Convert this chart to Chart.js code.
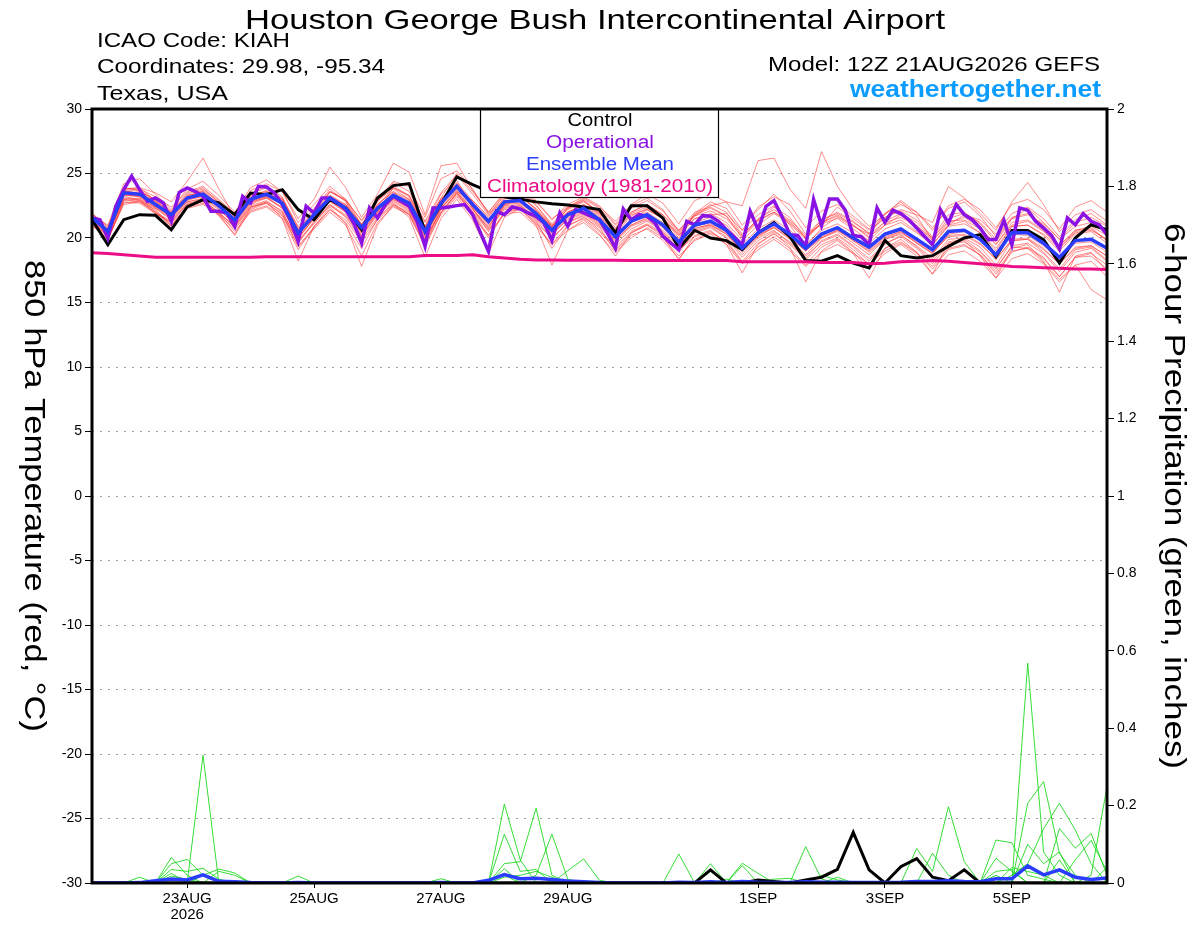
<!DOCTYPE html>
<html>
<head>
<meta charset="utf-8">
<title>KIAH GEFS 850 hPa meteogram</title>
<script src="https://cdn.jsdelivr.net/npm/chart.js@4.4.1/dist/chart.umd.min.js"></script>
<style>
  html, body { margin: 0; padding: 0; background: #fff; }
  #wrap { width: 1200px; height: 927px; position: relative; }
</style>
</head>
<body>
<div id="wrap"><canvas id="meteogram"></canvas></div>
<script>
// ---- time axis (hours after 12Z 21AUG2026) ----
const ENS_STEP_H = 6;   // ensemble output every 6 h
const OP_STEP_H = 3;    // operational run every 3 h
const tickHours = [36, 84, 132, 180, 252, 300, 348];
const tickLabels = [['23AUG', '2026'], '25AUG', '27AUG', '29AUG', '1SEP', '3SEP', '5SEP'];
const tempTicks = [-30, -25, -20, -15, -10, -5, 0, 5, 10, 15, 20, 25, 30];
const precipTicks = [0, 0.2, 0.4, 0.6, 0.8, 1, 1.2, 1.4, 1.6, 1.8, 2];

// ---- 850 hPa temperature (C), 6-hourly ----
const controlTemp = [
  21.42, 19.48, 21.42, 21.81, 21.76, 20.64, 22.41, 22.97, 22.72, 21.81,
  23.49, 23.36, 23.75, 22.2, 21.42, 22.97, 22.33, 20.64, 23.1, 24.06,
  24.22, 20.51, 22.6, 24.74, 24.14, 23.62, 23.2, 23.0, 22.8, 22.65,
  22.55, 22.4, 22.2, 20.4, 22.5, 22.5, 21.55, 19.2, 20.6, 20.0,
  19.8, 19.1, 20.4, 21.2, 20.12, 18.26, 18.2, 18.63, 18.06, 17.67,
  19.81, 18.63, 18.45, 18.63, 19.35, 20.0, 20.26, 18.57, 20.59, 20.59,
  19.87, 18.06, 20.0, 21.03, 20.64
];
const meanTemp = [
  21.6, 20.5, 23.5, 23.4, 22.6, 21.8, 23.1, 23.4, 22.5, 21.4,
  23.0, 23.4, 22.7, 20.4, 21.8, 23.1, 22.3, 20.8, 22.3, 23.3,
  22.7, 20.5, 22.7, 24.0, 22.6, 21.3, 22.8, 22.9, 21.9, 20.6,
  21.8, 22.3, 21.4, 20.1, 21.3, 21.8, 21.0, 19.7, 21.0, 21.3,
  20.6, 19.2, 20.4, 21.1, 20.3, 19.2, 20.3, 20.8, 20.0, 19.3,
  20.3, 20.7, 19.9, 19.1, 20.5, 20.6, 19.9, 18.7, 20.4, 20.4,
  19.6, 18.5, 19.8, 19.9, 19.2
];
const climTemp = [
  18.85, 18.8, 18.7, 18.6, 18.5, 18.5, 18.5, 18.5, 18.5, 18.5,
  18.5, 18.55, 18.55, 18.55, 18.55, 18.55, 18.55, 18.55, 18.55, 18.55,
  18.55, 18.65, 18.65, 18.65, 18.7, 18.55, 18.45, 18.35, 18.3, 18.3,
  18.28, 18.28, 18.27, 18.27, 18.26, 18.26, 18.25, 18.25, 18.25, 18.25,
  18.25, 18.15, 18.15, 18.15, 18.15, 18.15, 18.1, 18.1, 18.1, 18.0,
  18.05, 18.15, 18.2, 18.25, 18.2, 18.1, 18.0, 17.9, 17.8, 17.75,
  17.7, 17.65, 17.6, 17.6, 17.55
];
// operational run, 3-hourly
const operTemp = [
  21.55, 21.42, 20.0, 22.46, 23.75, 24.79, 23.75, 22.84, 23.1, 22.72,
  21.29, 23.54, 23.88, 23.62, 23.23, 22.07, 22.07, 21.94, 20.9, 23.23,
  22.72, 24.01, 23.96, 23.49, 22.59, 21.42, 19.74, 22.46, 21.94, 23.1,
  23.1, 22.72, 22.2, 21.16, 19.61, 22.33, 21.55, 22.59, 23.23, 22.84,
  22.46, 21.29, 19.35, 22.33,
  22.33, 22.41, 22.51, 22.59, 21.81, 20.4, 18.96, 22.07, 21.81, 22.41,
  22.25, 21.94, 21.68, 21.16, 19.81, 21.94, 20.9, 22.2, 21.94, 21.68,
  21.42, 20.39, 19.22, 22.25, 21.42, 21.81, 21.68, 21.16, 20.12, 19.61,
  19.09, 21.29, 21.03, 21.73, 21.68, 21.29, 20.64, 20.07, 19.48, 22.07,
  20.64, 22.46,
  22.9, 21.68, 20.26, 20.2, 19.35, 22.98, 20.97, 23.03, 23.03, 22.15,
  20.2, 20.1, 19.48, 22.33, 21.22, 22.15, 21.89, 21.42, 20.77, 20.12,
  19.48, 22.2, 21.16, 22.59, 21.81, 21.42, 20.77, 19.87, 19.9, 21.37,
  19.48, 22.33, 22.15, 21.29, 20.77, 20.2, 19.14, 21.55, 21.03, 21.89,
  21.29, 21.03, 20.26
];

// ensemble members (thin red)
const member01 = [
  21.8,21.0,24.2,24.6,23.4,22.2,23.8,24.4,23.3,22.0, 23.9,24.5,23.6,21.2,22.6,24.0,23.0,21.0,22.8,24.3,
  23.6,21.3,23.5,24.9,23.4,21.8,23.0,23.5,22.8,21.5, 22.4,23.0,22.3,21.0,22.0,22.6,21.8,20.4,21.8,22.6,
  22.0,20.3,21.4,22.4,21.6,20.0,21.2,21.8,21.0,20.1, 21.0,21.8,21.0,19.8,21.2,21.6,20.8,19.5,21.0,21.3,
  20.5,19.4,20.6,20.9,20.2
];
const member02 = [
  21.2,20.0,22.8,22.7,21.9,21.2,22.3,22.6,21.8,20.7, 22.1,22.5,21.7,19.4,20.8,22.2,21.4,19.7,21.4,22.5,
  21.9,19.6,21.8,23.2,21.7,20.2,21.9,22.0,20.9,19.5, 20.6,21.2,20.2,18.9,20.0,20.8,20.0,18.6,19.8,20.3,
  19.5,18.0,19.1,19.9,19.0,17.8,18.9,19.5,18.8,18.0, 19.0,19.6,18.8,17.8,19.2,19.5,18.7,17.4,19.0,19.2,
  18.4,17.0,18.5,18.6,17.6
];
const member03 = [
  21.5,20.6,23.8,23.9,23.5,22.8,24.4,26.2,23.8,21.6, 23.3,23.6,23.0,20.8,21.4,23.6,22.9,20.2,22.0,23.9,
  23.2,20.9,23.4,24.5,22.3,20.5,22.5,23.4,22.6,20.9, 22.3,22.9,21.9,20.7,22.5,23.1,22.2,20.5,21.7,22.5,
  22.8,21.0,22.2,23.4,22.1,20.3,21.0,22.4,21.5,20.6, 21.6,22.1,21.4,20.1,21.8,22.0,21.1,19.7,21.5,22.3,
  21.2,19.9,20.9,21.2,20.5
];
const member04 = [
  21.4,20.2,23.2,23.0,22.4,21.6,22.8,23.0,22.2,21.1, 22.7,23.2,22.3,19.9,21.6,23.3,22.6,20.6,22.6,23.6,
  22.4,20.2,22.3,23.6,22.9,21.7,23.4,23.6,22.5,21.1, 22.4,23.1,22.4,21.3,22.6,23.4,22.7,21.1,22.9,23.4,
  22.8,22.5,26.0,26.2,23.8,22.3,26.7,24.0,22.2,20.9, 21.8,22.9,22.0,20.8,22.3,22.8,21.7,20.1,21.6,21.9,
  21.0,19.4,20.6,20.8,19.8
];
const member05 = [
  21.0,19.8,22.9,23.0,22.0,20.9,22.5,22.9,21.7,20.3, 22.4,22.8,21.5,18.2,20.9,22.4,21.1,17.8,21.0,22.6,
  21.6,18.5,21.5,23.0,21.4,18.8,21.6,22.3,21.0,17.9, 20.6,21.4,20.3,18.6,20.4,21.0,20.1,18.3,20.2,20.6,
  19.5,17.3,19.5,20.4,19.3,16.6,19.0,19.8,18.8,16.9, 19.2,19.9,18.9,17.2,19.6,19.8,18.6,16.9,19.2,19.5,
  18.2,15.8,18.6,18.9,17.4
];
const member06 = [
  21.9,20.9,23.7,23.8,23.2,22.4,23.6,24.0,23.0,21.9, 23.7,24.2,23.6,21.5,23.0,25.5,23.9,21.6,23.4,25.8,
  25.1,21.8,25.6,25.8,23.7,22.0,23.5,23.3,22.2,20.8, 22.3,22.9,22.0,20.5,21.9,22.4,21.5,20.2,21.5,21.9,
  21.2,19.8,21.0,21.9,21.1,19.9,21.1,21.5,20.7,19.8, 21.0,21.4,20.5,19.5,21.0,21.3,20.4,19.0,20.9,21.0,
  20.3,19.2,20.4,20.6,19.9
];
const member07 = [
  21.3,20.1,23.1,22.9,21.9,21.2,22.6,22.9,22.0,20.8, 22.3,22.8,22.1,19.6,21.2,22.5,21.7,20.1,21.8,22.8,
  22.1,19.9,22.2,23.4,22.0,20.6,22.2,22.3,21.2,20.0, 21.2,21.7,20.6,19.3,20.5,21.1,20.4,19.0,20.5,20.9,
  20.1,18.7,20.0,20.6,19.6,18.4,19.8,20.3,19.4,18.4, 19.5,20.2,19.4,18.4,19.9,20.0,19.3,17.9,19.8,19.9,
  18.9,17.6,19.1,19.3,18.3
];
const member08 = [
  21.7,20.7,23.6,23.5,22.8,22.0,23.3,23.6,22.6,21.5, 23.1,23.5,22.9,20.7,22.0,23.3,22.5,21.1,22.6,23.6,
  23.0,20.9,23.0,24.3,22.9,21.6,23.1,23.2,22.3,21.0, 22.2,22.8,22.0,20.8,22.0,22.6,21.8,20.6,22.0,22.4,
  21.7,20.2,21.5,22.2,21.4,20.2,21.4,21.9,21.2,20.4, 21.6,22.2,21.8,21.2,24.0,23.1,21.9,20.6,22.8,24.3,
  22.6,20.5,21.8,22.2,21.3
];
const member09 = [
  21.5,20.3,23.3,23.2,22.3,21.5,22.8,23.1,22.3,21.0, 22.6,23.1,22.4,20.0,21.5,22.8,22.0,20.4,22.1,23.0,
  22.3,20.1,22.4,23.7,22.2,20.9,22.5,22.6,21.5,20.2, 21.5,22.0,21.1,19.7,20.9,21.4,20.6,19.3,20.6,21.0,
  20.3,18.9,20.1,20.8,19.9,18.7,20.0,20.5,19.6,18.7, 19.9,20.3,19.3,18.2,19.7,19.9,19.0,17.7,19.3,19.2,
  18.1,16.8,17.9,16.0,15.2
];
const member10 = [
  21.9,20.8,23.9,23.7,22.9,22.0,23.4,23.8,22.9,21.7, 23.5,24.0,23.2,20.5,21.9,23.6,23.0,21.3,22.9,24.0,
  23.3,21.2,23.0,24.2,22.4,21.0,22.4,22.5,21.6,20.4, 21.4,21.9,21.0,19.8,21.0,21.6,20.9,19.5,20.8,21.0,
  20.3,19.0,20.2,20.8,20.0,19.0,20.1,20.6,19.9,19.1, 20.1,20.5,19.6,18.8,20.3,20.5,19.8,18.6,20.3,20.2,
  19.4,18.3,19.6,19.7,18.9
];
const member11 = [
  21.1,19.9,22.7,22.9,22.3,21.4,22.6,22.8,21.9,20.5, 22.0,22.4,21.5,19.1,20.9,22.2,21.2,19.2,21.5,22.7,
  21.8,19.3,21.9,23.5,21.9,20.0,21.9,22.4,21.3,19.2, 20.9,21.6,20.8,19.0,20.2,20.7,19.8,18.4,19.9,20.4,
  19.8,18.2,19.6,20.3,19.5,18.3,19.5,20.0,19.1,17.9, 19.2,19.7,18.9,17.6,19.1,19.4,18.7,17.2,18.9,19.3,
  18.5,17.0,18.5,18.8,17.9
];
const member12 = [
  21.6,20.6,23.8,23.9,22.9,21.9,23.2,23.7,22.8,21.6, 23.4,23.9,23.0,20.6,22.2,23.8,22.8,21.0,22.5,23.9,
  23.3,20.8,23.1,25.0,23.6,22.0,23.5,23.8,22.9,21.4, 22.6,23.2,22.5,21.1,22.3,22.9,22.1,20.6,21.8,22.3,
  21.7,20.0,21.3,22.0,21.2,20.0,21.4,22.0,21.3,20.3, 21.2,21.6,20.9,20.0,21.3,21.4,20.7,19.5,21.2,21.4,
  20.6,19.2,20.5,20.7,19.8
];
const member13 = [
  21.4,20.4,23.3,23.3,22.5,21.7,23.0,23.2,22.4,21.3, 22.9,23.2,22.6,20.2,21.6,22.9,22.1,20.6,22.2,23.1,
  22.5,20.4,22.6,23.9,22.5,21.2,22.7,22.8,21.8,20.5, 21.7,22.2,21.3,20.0,21.2,21.7,20.9,19.6,20.9,21.2,
  20.5,19.1,20.3,21.0,20.2,19.1,20.2,20.7,19.8,19.0, 20.0,20.5,19.6,18.8,20.2,20.3,19.6,18.3,19.9,20.0,
  19.2,18.0,19.3,19.4,18.6
];
const member14 = [
  21.8,20.6,23.4,23.6,23.0,22.1,23.5,23.9,22.7,21.2, 22.8,23.3,22.6,20.1,21.5,22.9,22.6,21.0,22.9,23.8,
  23.0,20.7,22.9,24.2,22.8,21.4,22.9,23.0,22.1,20.8, 22.0,22.6,21.9,20.6,21.8,22.2,21.5,20.2,21.5,21.8,
  21.9,20.6,22.4,23.2,22.6,20.8,22.1,22.6,21.7,20.7, 21.9,22.6,22.0,20.6,22.5,23.0,22.2,20.8,22.6,23.0,
  22.2,20.7,22.4,22.9,22.0
];
const member15 = [
  21.0,19.9,22.6,22.8,22.2,21.0,22.4,22.7,21.9,20.9, 22.5,22.9,22.0,19.8,21.1,22.6,21.8,20.2,21.9,22.9,
  22.2,20.0,22.0,23.3,22.1,20.8,22.6,22.9,22.0,20.9, 22.0,22.6,21.8,20.4,21.7,22.3,21.6,20.3,21.7,22.1,
  21.5,20.1,21.4,22.0,21.3,20.0,21.2,21.7,21.0,20.0, 21.3,21.9,21.2,20.0,21.5,21.9,21.2,19.9,21.5,21.8,
  21.1,19.9,21.2,21.6,20.9
];
const member16 = [
  21.7,20.4,23.0,23.1,22.1,20.9,22.4,22.9,21.8,20.2, 22.2,22.7,21.9,19.3,20.7,22.0,21.0,18.6,21.2,22.4,
  21.8,19.5,22.3,23.6,22.0,20.2,22.0,22.2,21.1,19.5, 21.0,21.5,20.5,19.1,20.4,21.0,20.3,18.9,20.4,20.8,
  20.0,18.5,19.8,20.5,19.7,18.6,19.7,20.2,19.3,18.2, 19.6,20.1,19.2,18.0,19.5,19.7,18.9,17.6,19.4,19.6,
  18.8,17.4,18.9,19.2,18.2
];
const member17 = [
  21.6,20.7,23.7,23.4,22.7,21.9,23.3,23.5,22.7,21.7, 23.2,23.7,23.1,20.9,22.3,23.6,22.9,21.4,23.0,24.4,
  24.0,21.6,24.6,25.2,23.8,21.9,23.2,23.3,22.2,20.9, 22.0,22.5,21.7,20.3,21.5,22.0,21.2,19.9,21.2,21.6,
  21.0,19.5,20.7,21.4,20.6,19.5,20.6,21.1,20.4,19.6, 20.7,21.2,20.4,19.5,20.9,21.1,20.4,19.2,20.9,21.0,
  20.2,19.0,20.3,20.5,19.6
];
const member18 = [
  21.3,20.3,23.4,23.2,22.4,21.6,22.9,23.3,22.4,21.2, 22.8,23.1,22.3,20.3,21.7,22.9,22.0,20.5,22.0,23.0,
  22.4,20.3,22.5,23.8,22.4,21.1,22.6,22.7,21.7,20.3, 21.6,22.1,21.2,19.9,21.0,21.5,20.8,19.4,20.7,21.1,
  20.4,19.0,20.2,20.9,20.1,19.0,20.0,20.6,19.8,18.9, 19.9,20.4,19.7,18.9,20.1,20.2,19.5,18.4,19.8,19.9,
  19.1,18.0,19.2,19.4,18.6
];
const member19 = [
  21.5,20.5,23.6,23.7,22.8,21.7,23.1,23.6,22.6,21.4, 22.9,23.6,22.8,20.4,21.9,23.2,22.4,20.9,22.4,23.5,
  22.9,20.6,22.8,24.1,22.7,21.3,22.8,23.0,21.9,20.7, 21.9,22.4,21.6,20.2,21.4,22.2,21.5,20.0,21.9,22.8,
  22.3,20.6,21.8,22.5,21.0,19.3,20.8,21.6,20.9,20.3, 21.9,22.8,21.7,19.8,21.0,21.8,21.4,20.3,21.9,22.4,
  21.5,20.1,21.4,21.9,21.0
];
const member20 = [
  21.2,20.2,23.0,22.8,22.0,21.3,22.7,22.9,22.0,20.9, 22.4,22.7,21.8,19.7,21.3,22.6,21.6,19.9,21.6,22.6,
  22.0,19.8,22.0,23.5,22.3,20.7,22.3,22.5,21.4,19.9, 21.2,21.8,20.9,19.5,20.7,21.3,20.5,19.1,20.1,20.5,
  19.7,18.1,19.3,20.1,19.2,17.9,19.3,19.9,18.9,17.6, 18.8,19.5,18.6,17.2,18.7,19.0,18.2,16.9,18.4,18.8,
  18.0,16.6,17.9,18.2,17.0
];
const tempMembers = [member01, member02, member03, member04, member05, member06, member07,
  member08, member09, member10, member11, member12, member13, member14, member15, member16,
  member17, member18, member19, member20];

// ---- 6-hour precipitation (inches) ----
const meanPrecip = [
  0, 0, 0, 0.001, 0.006, 0.0104, 0.008, 0.021, 0.0044, 0.003,
  0.001, 0, 0, 0.001, 0, 0, 0, 0, 0, 0,
  0, 0, 0.001, 0, 0, 0.007, 0.0216, 0.011, 0.012, 0.009,
  0.005, 0.003, 0.001, 0, 0, 0, 0, 0.002, 0.001, 0.003,
  0.001, 0.004, 0.002, 0.001, 0.001, 0.003, 0.002, 0.002, 0.001, 0.001,
  0.001, 0.002, 0.004, 0.004, 0.006, 0.004, 0.003, 0.011, 0.011, 0.044,
  0.021, 0.034, 0.015, 0.009, 0.013
];
// [step, inches] pairs, all other steps dry
const controlPrecip = [[39, 0.034], [42, 0.008], [43, 0.004], [45, 0.008], [46, 0.015], [47, 0.035],
  [48, 0.131], [49, 0.034], [51, 0.042], [52, 0.063], [53, 0.015], [54, 0.006], [55, 0.034]];
const precip01 = [[3, 0.015], [5, 0.066], [6, 0.02], [26, 0.204], [27, 0.06], [43, 0.01], [44, 0.012],
  [47, 0.015], [52, 0.089], [53, 0.03], [54, 0.197], [55, 0.055]];
const precip02 = [[7, 0.33], [26, 0.126], [27, 0.03], [28, 0.035], [46, 0.02], [47, 0.008], [53, 0.077], [54, 0.02]];
const precip03 = [[5, 0.05], [6, 0.061], [7, 0.02], [26, 0.05], [27, 0.055], [28, 0.193], [29, 0.02],
  [39, 0.03], [41, 0.045], [57, 0.111], [58, 0.104], [59, 0.02], [60, 0.01]];
const precip04 = [[5, 0.035], [6, 0.03], [7, 0.038], [8, 0.01], [26, 0.037], [28, 0.02], [29, 0.126],
  [30, 0.01], [59, 0.568], [60, 0.08], [61, 0.02]];
const precip05 = [[5, 0.025], [7, 0.02], [8, 0.036], [9, 0.026], [25, 0.005], [26, 0.02], [30, 0.032],
  [31, 0.062], [32, 0.007], [59, 0.206], [60, 0.262], [61, 0.077], [62, 0.02]];
const precip06 = [[5, 0.018], [6, 0.01], [8, 0.03], [9, 0.02], [26, 0.015], [27, 0.02], [28, 0.03],
  [29, 0.015], [58, 0.02], [59, 0.05], [60, 0.14], [61, 0.206], [62, 0.137], [63, 0.05]];
const precip07 = [[13, 0.018], [37, 0.075], [57, 0.064], [58, 0.03], [61, 0.141], [62, 0.09], [63, 0.128], [64, 0.02]];
const precip08 = [[22, 0.011], [39, 0.05], [41, 0.051], [42, 0.025], [57, 0.02], [59, 0.1], [60, 0.05],
  [61, 0.08], [63, 0.02], [64, 0.249]];
const precip09 = [[45, 0.094], [46, 0.01], [58, 0.04], [59, 0.03], [60, 0.02], [62, 0.06], [63, 0.11], [64, 0.03]];
const precip10 = [[40, 0.01], [57, 0.03], [58, 0.035], [61, 0.06], [64, 0.04]];
const precipMembers = [precip01, precip02, precip03, precip04, precip05, precip06, precip07, precip08, precip09, precip10];

// ---- helpers ----
const N_STEPS = meanTemp.length;
const ensPoints = vals => vals.map((v, i) => ({ x: i * ENS_STEP_H, y: v }));
const operPoints = vals => vals.map((v, j) => ({ x: j * OP_STEP_H, y: v }));
function expandPrecip(pairs) {
  const out = new Array(N_STEPS).fill(0);
  pairs.forEach(([i, v]) => { out[i] = v; });
  return out;
}
// the original uses a wide Helvetica, so stretch text to the width it takes there
function fillFitted(ctx, text, x, y, width, align) {
  const sx = width / ctx.measureText(text).width;
  ctx.save();
  ctx.translate(x, y);
  ctx.scale(sx, 1);
  ctx.textAlign = align;
  ctx.fillText(text, 0, 0);
  ctx.restore();
}

const FONT = "'Liberation Sans', Arial, Helvetica, sans-serif";
const C_CONTROL = '#000000';
const C_OPER = '#8a12e4';
const C_MEAN = '#2a3dff';
const C_CLIM = '#ec0c86';
const C_SITE = '#0a9cff';

const legendRows = [
  ['Control', C_CONTROL, 65],
  ['Operational', C_OPER, 108],
  ['Ensemble Mean', C_MEAN, 148],
  ['Climatology (1981-2010)', C_CLIM, 226]
];

// datasets: lower "order" is drawn on top
const datasets = [];
tempMembers.forEach((m, k) => {
  datasets.push({ label: 'member ' + (k + 1), data: ensPoints(m), yAxisID: 'y',
    borderColor: 'rgba(255,30,30,0.5)', borderWidth: 1, order: 20 });
});
precipMembers.forEach((p, k) => {
  datasets.push({ label: 'precip ' + (k + 1), data: ensPoints(expandPrecip(p)), yAxisID: 'y1',
    borderColor: 'rgba(20,215,20,0.85)', borderWidth: 1, order: 15 });
});
datasets.push({ label: 'Control precip', data: ensPoints(expandPrecip(controlPrecip)), yAxisID: 'y1',
  borderColor: C_CONTROL, borderWidth: 3, order: 6 });
datasets.push({ label: 'Mean precip', data: ensPoints(meanPrecip), yAxisID: 'y1',
  borderColor: C_MEAN, borderWidth: 3.5, order: 5 });
datasets.push({ label: 'Control', data: ensPoints(controlTemp), yAxisID: 'y',
  borderColor: C_CONTROL, borderWidth: 3, order: 4 });
datasets.push({ label: 'Operational', data: operPoints(operTemp), yAxisID: 'y',
  borderColor: C_OPER, borderWidth: 3.5, order: 3 });
datasets.push({ label: 'Ensemble Mean', data: ensPoints(meanTemp), yAxisID: 'y',
  borderColor: C_MEAN, borderWidth: 3.5, order: 2 });
datasets.push({ label: 'Climatology', data: ensPoints(climTemp), yAxisID: 'y',
  borderColor: C_CLIM, borderWidth: 3, order: 1 });

// header text, axis titles, legend box and frame
const decorPlugin = {
  id: 'decor',
  afterDatasetsDraw(chart) {
    const { ctx, chartArea: a } = chart;
    ctx.save();
    // legend box
    ctx.fillStyle = '#fff';
    ctx.fillRect(480.5, 109, 238, 88.5);
    ctx.strokeStyle = '#000';
    ctx.lineWidth = 1.2;
    ctx.strokeRect(480.5, 109, 238, 88.5);
    ctx.font = '18px ' + FONT;
    ctx.textBaseline = 'alphabetic';
    const baselines = [125.7, 147.7, 169.7, 192.3];
    legendRows.forEach(([txt, col, w], k) => {
      ctx.fillStyle = col;
      fillFitted(ctx, txt, 600, baselines[k], w, 'center');
    });
    // plot frame
    ctx.lineWidth = 3;
    ctx.strokeStyle = '#000';
    ctx.strokeRect(a.left, a.top, a.right - a.left, a.bottom - a.top);
    ctx.restore();
  },
  afterDraw(chart) {
    const { ctx, chartArea: a } = chart;
    const midY = (a.top + a.bottom) / 2;
    ctx.save();
    ctx.fillStyle = '#000';
    ctx.textBaseline = 'alphabetic';
    ctx.font = '28px ' + FONT;
    fillFitted(ctx, 'Houston George Bush Intercontinental Airport', 595, 29, 700, 'center');
    ctx.font = '21px ' + FONT;
    fillFitted(ctx, 'ICAO Code: KIAH', 97, 47, 193, 'left');
    fillFitted(ctx, 'Coordinates: 29.98, -95.34', 97, 73, 288, 'left');
    fillFitted(ctx, 'Texas, USA', 97, 100, 131, 'left');
    fillFitted(ctx, 'Model: 12Z 21AUG2026 GEFS', 1100, 71, 332, 'right');
    ctx.font = 'bold 24px ' + FONT;
    ctx.fillStyle = C_SITE;
    fillFitted(ctx, 'weathertogether.net', 1101, 97, 251, 'right');
    // axis titles, both read top to bottom
    ctx.fillStyle = '#000';
    ctx.font = '29px ' + FONT;
    ctx.textBaseline = 'middle';
    ctx.save();
    ctx.translate(32.5, midY);
    ctx.rotate(Math.PI / 2);
    fillFitted(ctx, '850 hPa Temperature (red, °C)', 0, 0, 472, 'center');
    ctx.restore();
    ctx.save();
    ctx.translate(1173, midY);
    ctx.rotate(Math.PI / 2);
    fillFitted(ctx, '6-hour Precipitation (green, inches)', 0, 0, 546, 'center');
    ctx.restore();
    ctx.restore();
  }
};

Chart.defaults.font.family = FONT;
Chart.defaults.color = '#000';

new Chart(document.getElementById('meteogram'), {
  type: 'line',
  data: { datasets },
  options: {
    responsive: true,
    maintainAspectRatio: false,
    animation: false,
    devicePixelRatio: 1,
    layout: { padding: { top: 109, left: 0, right: 0, bottom: 0 } },
    elements: { point: { radius: 0 }, line: { tension: 0, fill: false } },
    plugins: { legend: { display: false }, tooltip: { enabled: false } },
    scales: {
      x: {
        type: 'linear', min: 0, max: 384,
        afterBuildTicks: axis => { axis.ticks = tickHours.map(v => ({ value: v })); },
        afterFit: axis => { axis.height = 44; },
        ticks: {
          autoSkip: false, maxRotation: 0, minRotation: 0, padding: 3,
          font: { size: 15, lineHeight: 1.07 },
          callback: v => { const k = tickHours.indexOf(v); return k >= 0 ? tickLabels[k] : ''; }
        },
        grid: { drawOnChartArea: false, tickLength: 5, tickColor: '#000', tickWidth: 1 },
        border: { display: false }
      },
      y: {
        position: 'left', min: -30, max: 30,
        afterBuildTicks: axis => { axis.ticks = tempTicks.map(v => ({ value: v })); },
        afterFit: axis => { axis.width = 92; },
        ticks: { padding: 3, font: { size: 14 }, callback: v => String(v) },
        grid: { color: '#9a9a9a', lineWidth: 1, tickColor: '#000', tickLength: 7, tickWidth: 1, tickBorderDash: [] },
        border: { display: false, dash: [2, 6] }
      },
      y1: {
        position: 'right', min: 0, max: 2,
        afterBuildTicks: axis => { axis.ticks = precipTicks.map(v => ({ value: v })); },
        afterFit: axis => { axis.width = 93; },
        ticks: { padding: 3, font: { size: 14 }, callback: v => String(v) },
        grid: { drawOnChartArea: false, tickColor: '#000', tickLength: 7, tickWidth: 1 },
        border: { display: false }
      }
    }
  },
  plugins: [decorPlugin]
});
</script>
</body>
</html>
